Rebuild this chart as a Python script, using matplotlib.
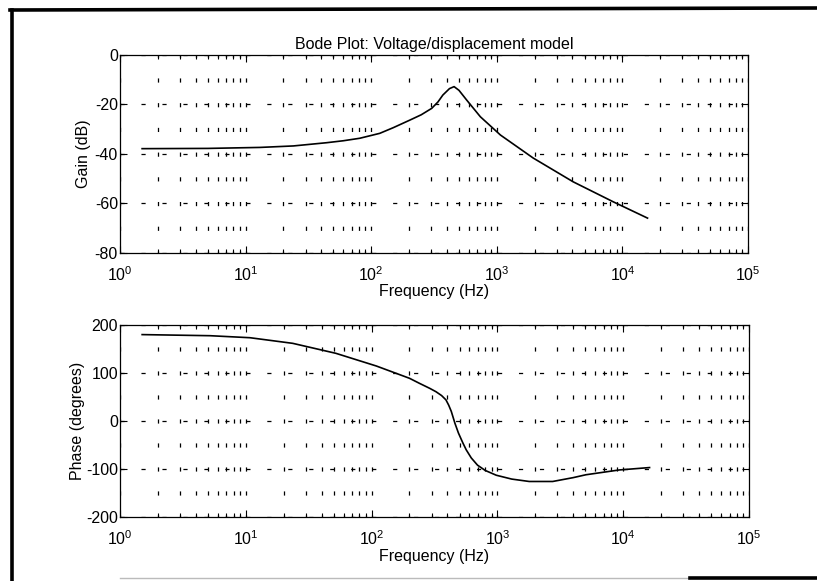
import matplotlib
matplotlib.use("Agg")
import matplotlib.pyplot as plt
from matplotlib.lines import Line2D
from matplotlib.ticker import LogLocator, FixedLocator

plt.rcParams['font.family'] = ['Liberation Sans', 'DejaVu Sans']
plt.rcParams['mathtext.fontset'] = 'custom'
plt.rcParams['mathtext.rm'] = 'Liberation Sans'
plt.rcParams['lines.scale_dashes'] = False
plt.rcParams['axes.unicode_minus'] = False

# gain curve
gain_freq = [1.5, 5, 13, 24, 44, 60, 81, 117, 150, 204, 250, 303, 340, 372, 420, 457,
             500, 575, 740, 1070, 1950, 4050, 8450, 15850]
gain_db = [-37.9, -37.8, -37.4, -36.8, -35.5, -34.7, -33.7, -31.7, -29.4, -26.3, -24.2,
           -21.6, -19.0, -16.2, -13.6, -12.8, -14.3, -18.2, -25.0, -32.4, -41.7, -51.3,
           -59.4, -66.0]

# phase curve
phase_freq = [1.5, 5.2, 10.8, 23.6, 52, 109, 200, 240, 290, 325, 360, 390, 410, 430,
              460, 490, 530, 565, 620, 695, 800, 980, 1300, 1790, 2750, 4000, 5050,
              9300, 16200]
phase_deg = [180, 177.7, 173.5, 161.8, 141, 114.6, 89, 78.5, 68, 61, 53, 44, 33, 20,
             -5, -25, -45, -60, -77, -92, -103, -113, -121, -126, -126, -118, -112,
             -102, -97]

gain_ticks = [-80, -60, -40, -20, 0]
phase_ticks = [-200, -100, 0, 100, 200]
freq_ticks = [1e0, 1e1, 1e2, 1e3, 1e4, 1e5]
freq_labels = ['$10^{0}$', '$10^{1}$', '$10^{2}$', '$10^{3}$', '$10^{4}$', '$10^{5}$']

W, H = 817, 581
fig = plt.figure(figsize=(W / 100, H / 100), dpi=100)


def make_axes(top_px, bot_px, left_px, right_px):
    return fig.add_axes([left_px / W, 1 - bot_px / H,
                         (right_px - left_px) / W, (bot_px - top_px) / H])


def style_axes(ax, height_px, width_px, ylim, yticks, ylabel, ylab_right_px):
    ax.set_xscale('log')
    ax.set_xlim(1, 1e5)
    ax.set_ylim(*ylim)
    ax.xaxis.set_major_locator(FixedLocator(freq_ticks))
    ax.xaxis.set_minor_locator(LogLocator(base=10, subs=range(2, 10), numticks=20))
    ax.set_xticklabels(freq_labels)
    ax.set_yticks(yticks)
    ax.tick_params(which='both', direction='in', top=True, right=True,
                   labelsize=11.5, width=0.8)
    ax.tick_params(axis='x', which='major', pad=9)
    ax.tick_params(axis='y', which='major', pad=1.5)
    ax.tick_params(which='major', length=5)
    ax.tick_params(which='minor', length=3)
    for s in ax.spines.values():
        s.set_linewidth(0.9)

    # scanned dotted grid: short vertical dashes every 1/8 of the height
    vp = height_px * 0.72 / 8
    vd = 3.0
    ax.grid(True, which='both', axis='x', color='black', linewidth=0.9,
            linestyle=(vd / 2, (vd, vp - vd)))
    hp = 15.1
    ax.grid(True, which='major', axis='y', color='black', linewidth=0.9,
            linestyle=(0, (3.0, hp - 3.0)))
    ax.set_xlabel('Frequency (Hz)', fontsize=11.5, va='top')
    ax.xaxis.set_label_coords(0.5, -31.5 / height_px)
    ax.set_ylabel(ylabel, fontsize=11.5)
    ax.yaxis.set_label_coords(-(120 - ylab_right_px) / width_px, 0.5)


ax1 = make_axes(55, 252.7, 120, 748)
ax1.plot(gain_freq, gain_db, color='black', linewidth=1.2)
style_axes(ax1, 197.7, 628, (-80, 0), gain_ticks, 'Gain (dB)', 91)
ax1.set_title('Bode Plot: Voltage/displacement model', fontsize=11.5, pad=4)

ax2 = make_axes(325, 517, 120, 749)
ax2.plot(phase_freq, phase_deg, color='black', linewidth=1.2)
style_axes(ax2, 192, 629, (-200, 200), phase_ticks, 'Phase (degrees)', 85)


# scanned page frame
def px_line(x0, y0, x1, y1, **kw):
    fig.add_artist(Line2D([x0 / W, x1 / W], [1 - y0 / H, 1 - y1 / H],
                          transform=fig.transFigure, **kw))


px_line(12, 10, 12, 581, color='black', linewidth=2.6)
px_line(10, 10, 817, 8, color='black', linewidth=2.6)
px_line(120, 578, 690, 578, color='#bbbbbb', linewidth=1.0)
px_line(690, 578, 817, 578, color='black', linewidth=2.6)

fig.savefig('out.png', dpi=100)
